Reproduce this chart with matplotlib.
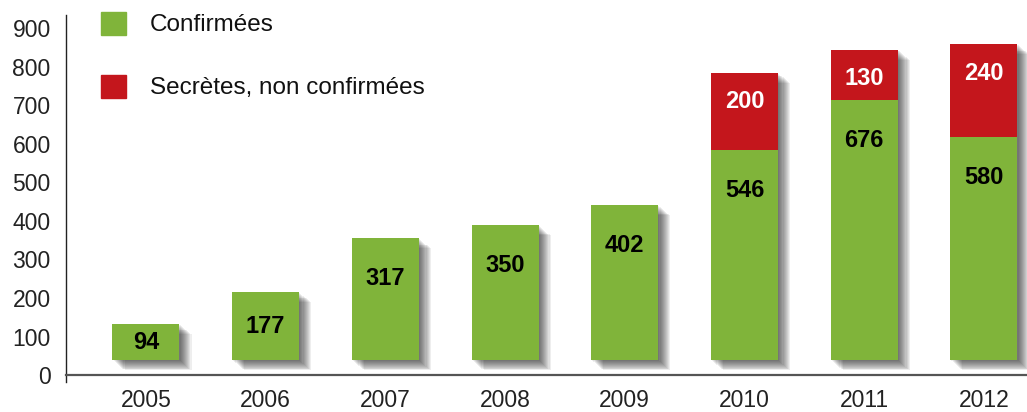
import matplotlib
matplotlib.use("Agg")
import matplotlib.pyplot as plt
from matplotlib.patches import Rectangle
from matplotlib.transforms import ScaledTranslation

plt.rcParams['font.family'] = ['Liberation Sans', 'DejaVu Sans']

years = ["2005", "2006", "2007", "2008", "2009", "2010", "2011", "2012"]
confirmed = [94, 177, 317, 350, 402, 546, 676, 580]
secret = [0, 0, 0, 0, 0, 200, 130, 240]
yticks = [0, 100, 200, 300, 400, 500, 600, 700, 800, 900]
legend_labels = ["Confirmées", "Secrètes, non confirmées"]

GREEN = "#80b43a"
RED = "#c4161c"
BASE = 38  # bars float slightly above the axis in the original
W = 0.56

W_PX, H_PX = 1027, 412
fig = plt.figure(figsize=(W_PX / 100, H_PX / 100), dpi=100)
ax = fig.add_axes([66 / W_PX, (H_PX - 382) / H_PX, (W_PX - 66) / W_PX, (382 - 15) / H_PX])
ax.set_xlim(-0.668, 7.36)
ax.set_ylim(-18, 934)

x = list(range(len(years)))
totals = [c + s for c, s in zip(confirmed, secret)]

# soft drop shadows
for k in range(1, 12):
    off = ScaledTranslation(k * 1.1 / 100, -k * 0.9 / 100, fig.dpi_scale_trans)
    ax.bar(x, totals, width=W, bottom=BASE, color="black", alpha=0.065,
           transform=ax.transData + off, zorder=1, linewidth=0)

ax.bar(x, confirmed, width=W, bottom=BASE, color=GREEN, zorder=3, linewidth=0)
ax.bar(x, secret, width=W, bottom=[BASE + c for c in confirmed], color=RED, zorder=3, linewidth=0)

for i, (c, s) in enumerate(zip(confirmed, secret)):
    top = BASE + c
    yl = max(BASE + c / 2, top - 105)
    ax.text(i, yl, str(c), ha="center", va="center", fontsize=17, fontweight="bold",
            color="black", zorder=5)
    if s:
        ax.text(i, top + s - 75, str(s), ha="center", va="center", fontsize=17,
                fontweight="bold", color="white", zorder=5)

ax.set_xticks(x)
ax.set_xticklabels(years)
ax.set_yticks(yticks)
ax.tick_params(axis="both", length=0, labelsize=16.5, colors="#222222")
ax.tick_params(axis="x", pad=10)
ax.tick_params(axis="y", pad=11)

for s in ["top", "right"]:
    ax.spines[s].set_visible(False)
ax.spines["bottom"].set_position(("data", 0))
ax.spines["bottom"].set_color("#555555")
ax.spines["bottom"].set_linewidth(1.6)
ax.spines["left"].set_color("#222222")
ax.spines["left"].set_linewidth(1.0)

# legend
for (ytop, col, lab) in [(12, GREEN, legend_labels[0]), (75, RED, legend_labels[1])]:
    fig.patches.append(Rectangle((101 / W_PX, (H_PX - ytop - 23) / H_PX), 25 / W_PX, 23 / H_PX,
                                 transform=fig.transFigure, color=col))
    fig.text(150 / W_PX, (H_PX - ytop - 13) / H_PX, lab, fontsize=17.5, va="center",
             ha="left", color="#111111")

fig.savefig("out.png", dpi=100)
